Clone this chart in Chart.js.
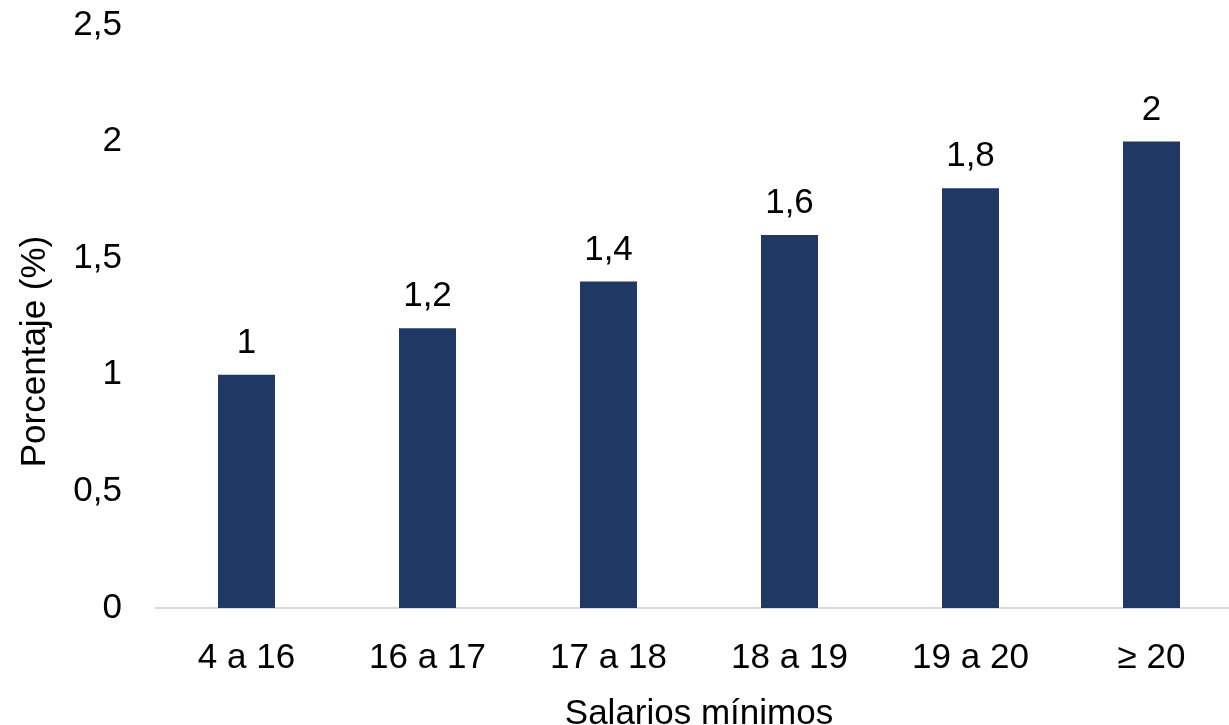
<!DOCTYPE html>
<html><head><meta charset="utf-8">
<script src="https://cdn.jsdelivr.net/npm/chart.js@4.4.1/dist/chart.umd.min.js"></script>
<style>html,body{margin:0;padding:0;overflow:hidden;background:#fff}#wrap{width:1244px;height:740px}</style>
</head><body><div id="wrap"><canvas id="c" width="1244" height="740"></canvas></div>
<script>
const categories = ["4 a 16", "16 a 17", "17 a 18", "18 a 19", "19 a 20", "≥ 20"];
const values = [1, 1.2, 1.4, 1.6, 1.8, 2];
const yTicks = [0, 0.5, 1, 1.5, 2, 2.5];
const yTitle = "Porcentaje (%)";
const xTitle = "Salarios mínimos";
const fmt = v => String(v).replace('.', ',');
const FONT = "'Liberation Sans', Arial, sans-serif";
const FS = 35;

const labelPlugin = {
  id: 'labels',
  afterDatasetsDraw(chart) {
    const ctx = chart.ctx;
    const meta = chart.getDatasetMeta(0);
    ctx.save();
    ctx.font = FS + "px " + FONT;
    ctx.fillStyle = "#000";
    ctx.textAlign = "center";
    ctx.textBaseline = "bottom";
    meta.data.forEach((bar, i) => {
      ctx.fillText(fmt(values[i]), bar.x, bar.y - 14);
    });
    // y axis title, placed relative to the y scale
    const y = chart.scales.y;
    const cy = y.getPixelForValue(1.1);
    ctx.translate(35, cy);
    ctx.rotate(-Math.PI / 2);
    ctx.textBaseline = "middle";
    ctx.fillText(yTitle, 0, 0);
    ctx.restore();
  }
};

new Chart(document.getElementById('c'), {
  type: 'bar',
  data: { labels: categories, datasets: [{ data: values, backgroundColor: '#203864', barPercentage: 0.315, categoryPercentage: 1 }] },
  options: {
    responsive: false, animation: false,
    layout: { padding: { top: 25, right: 2, left: 0, bottom: 0 } },
    plugins: { legend: { display: false }, tooltip: { enabled: false } },
    scales: {
      x: {
        afterFit(s) { s.height = 132; s.paddingLeft = 0; s.paddingRight = 0; },
        grid: { display: false, drawTicks: false },
        border: { display: true, color: '#d9d9d9', width: 2 },
        ticks: { color: '#000', font: { family: FONT, size: FS }, padding: 29, maxRotation: 0 },
        title: { display: true, text: xTitle, color: '#000', font: { family: FONT, size: FS }, padding: { top: 0, bottom: 5 } }
      },
      y: {
        min: 0, max: 2.5,
        afterFit(s) { s.width = 156; s.paddingTop = 0; s.paddingBottom = 0; },
        afterBuildTicks(s) { s.ticks = yTicks.map(v => ({ value: v })); },
        grid: { display: false, drawTicks: false },
        border: { display: false },
        ticks: { color: '#000', font: { family: FONT, size: FS }, padding: 34, callback: v => fmt(v) },
        title: { display: false }
      }
    }
  },
  plugins: [labelPlugin]
});
</script></body></html>
